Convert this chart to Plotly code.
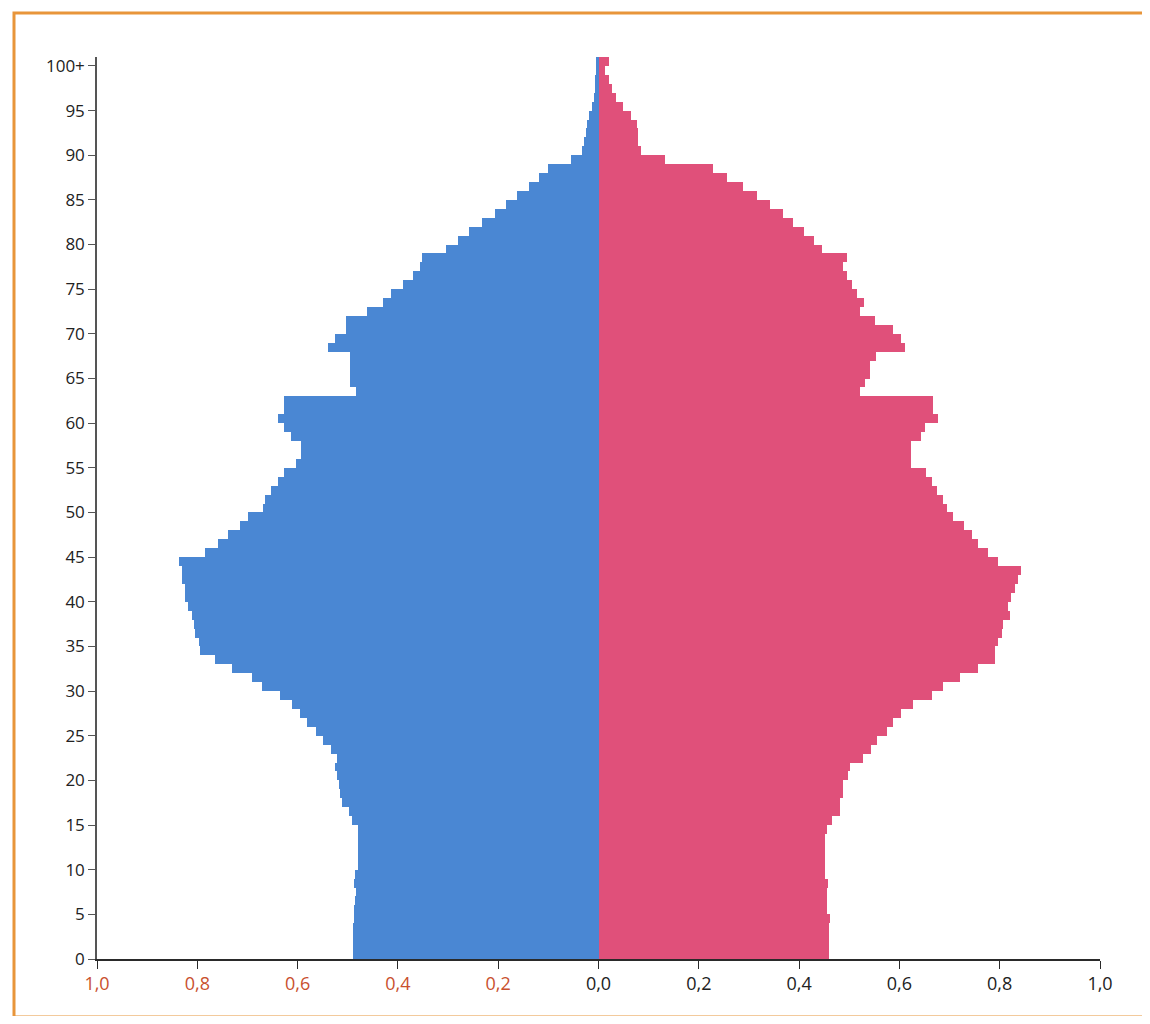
import numpy as np
import plotly.graph_objects as go

# ---------------- data (share of population, %) ----------------
ages = list(range(0, 101))

male = [
    0.489, 0.489, 0.489, 0.489, 0.488, 0.487, 0.485, 0.483, 0.488, 0.485,   # 0-9
    0.479, 0.479, 0.479, 0.479, 0.479, 0.491, 0.498, 0.511, 0.515, 0.517,   # 10-19
    0.521, 0.525, 0.521, 0.534, 0.549, 0.564, 0.582, 0.595, 0.612, 0.635,   # 20-29
    0.671, 0.691, 0.731, 0.765, 0.794, 0.797, 0.804, 0.807, 0.810, 0.818,   # 30-39
    0.824, 0.824, 0.830, 0.830, 0.837, 0.784, 0.758, 0.738, 0.714, 0.698,   # 40-49
    0.670, 0.665, 0.654, 0.640, 0.627, 0.604, 0.594, 0.594, 0.614, 0.627,   # 50-59
    0.640, 0.627, 0.627, 0.484, 0.496, 0.496, 0.496, 0.496, 0.539, 0.526,   # 60-69
    0.503, 0.503, 0.461, 0.430, 0.413, 0.390, 0.369, 0.355, 0.352, 0.305,   # 70-79
    0.281, 0.259, 0.232, 0.206, 0.184, 0.163, 0.139, 0.118, 0.100, 0.055,   # 80-89
    0.033, 0.028, 0.024, 0.022, 0.018, 0.013, 0.009, 0.007, 0.007, 0.005,   # 90-99
    0.005,                                                                  # 100+
]

female = [
    0.460, 0.460, 0.460, 0.460, 0.461, 0.455, 0.455, 0.455, 0.458, 0.451,   # 0-9
    0.451, 0.451, 0.451, 0.451, 0.455, 0.465, 0.481, 0.481, 0.488, 0.488,   # 10-19
    0.498, 0.501, 0.528, 0.543, 0.556, 0.575, 0.588, 0.604, 0.627, 0.664,   # 20-29
    0.687, 0.720, 0.757, 0.790, 0.790, 0.797, 0.804, 0.807, 0.820, 0.817,   # 30-39
    0.823, 0.830, 0.837, 0.843, 0.797, 0.777, 0.757, 0.745, 0.728, 0.707,   # 40-49
    0.694, 0.687, 0.674, 0.664, 0.654, 0.624, 0.624, 0.624, 0.644, 0.651,   # 50-59
    0.677, 0.667, 0.667, 0.521, 0.531, 0.541, 0.541, 0.554, 0.611, 0.604,   # 60-69
    0.588, 0.551, 0.522, 0.530, 0.515, 0.505, 0.495, 0.488, 0.496, 0.445,   # 70-79
    0.430, 0.410, 0.387, 0.367, 0.342, 0.317, 0.288, 0.256, 0.228, 0.133,   # 80-89
    0.085, 0.078, 0.078, 0.077, 0.065, 0.048, 0.035, 0.027, 0.020, 0.012,   # 90-99
    0.020,                                                                  # 100+
]

y_tick_values = list(range(0, 101, 5))
y_tick_labels = [str(v) for v in range(0, 100, 5)] + ["100+"]

x_tick_values = [-1.0, -0.8, -0.6, -0.4, -0.2, 0.0, 0.2, 0.4, 0.6, 0.8, 1.0]
x_tick_labels = ["1,0", "0,8", "0,6", "0,4", "0,2", "0,0", "0,2", "0,4", "0,6", "0,8", "1,0"]

# ---------------- styling ----------------
BLUE = "#4A87D3"
PINK = "#E0507A"
LEFT_LABEL_COLOR = "#C9502E"
TEXT_COLOR = "#222222"
FRAME = "#E8953A"
FONT = "Open Sans, Noto Sans, DejaVu Sans, sans-serif"

# figure sized for the 8px default body margin of the page
W, H = 1134, 1008
ML, MR, MT, MB = 89, 42, 49, 57
PW, PH = W - ML - MR, H - MT - MB

y_pos = np.array(ages) + 0.5   # each bar fills its one-year band

fig = go.Figure()
fig.add_trace(go.Bar(
    y=y_pos, x=-np.array(male), orientation="h", width=1.0,
    marker=dict(color=BLUE, line=dict(width=0)), name="Männer",
    hoverinfo="skip",
))
fig.add_trace(go.Bar(
    y=y_pos, x=np.array(female), orientation="h", width=1.0,
    marker=dict(color=PINK, line=dict(width=0)), name="Frauen",
    hoverinfo="skip",
))

ticktext_x = []
for v, t in zip(x_tick_values, x_tick_labels):
    if v < 0:
        ticktext_x.append(f'<span style="color:{LEFT_LABEL_COLOR}">{t}</span>')
    else:
        ticktext_x.append(t)

fig.update_layout(
    width=W, height=H,
    margin=dict(l=ML, r=MR, t=MT, b=MB, pad=0),
    barmode="overlay", bargap=0,
    showlegend=False,
    paper_bgcolor="white", plot_bgcolor="white",
    font=dict(family=FONT, size=18, color=TEXT_COLOR),
    xaxis=dict(
        range=[-1.0, 1.0], tickvals=x_tick_values, ticktext=ticktext_x,
        showgrid=False, zeroline=False,
        showline=True, linecolor="#2a2a2a", linewidth=1.5,
        ticks="outside", ticklen=8, tickwidth=1.2, tickcolor="#2a2a2a",
        tickfont=dict(size=18, color=TEXT_COLOR),
    ),
    yaxis=dict(
        range=[0, 101], tickvals=y_tick_values, ticktext=y_tick_labels,
        showgrid=False, zeroline=False,
        showline=True, linecolor="#555555", linewidth=1.5,
        ticks="outside", ticklen=7, tickwidth=1.2, tickcolor="#555555",
        tickfont=dict(size=17, color=TEXT_COLOR),
    ),
)

# decorative orange frame (page pixel positions -> paper coordinates)
def px(xp):
    return (xp - 8 - ML) / PW

def py(yp):
    return (H - MB - (yp - 8)) / PH

fig.add_shape(type="rect", xref="paper", yref="paper",
              x0=px(14), x1=px(1170), y0=py(1017), y1=py(13),
              line=dict(color=FRAME, width=3), fillcolor="rgba(0,0,0,0)",
              layer="below")

fig.write_html("out.html")
